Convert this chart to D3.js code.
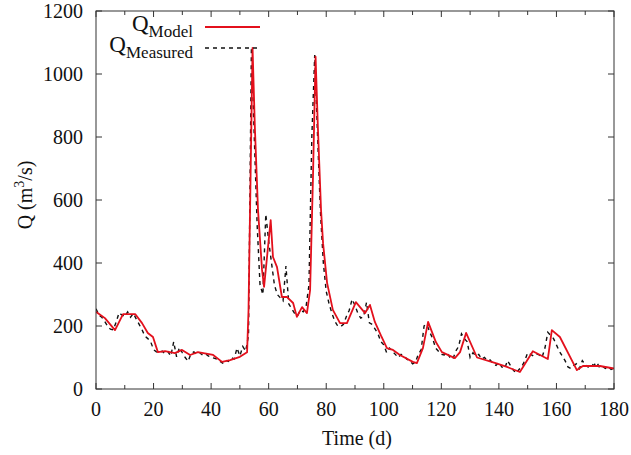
<!DOCTYPE html>
<html><head><meta charset="utf-8">
<script src="https://cdn.jsdelivr.net/npm/d3@7"></script>
<style>body{margin:0;background:#fff}svg{display:block}text{font-family:"Liberation Serif","DejaVu Serif",serif;fill:#111}</style>
</head><body><svg id="c" width="631" height="455"></svg>
<script>
const xTicks=[0,20,40,60,80,100,120,140,160,180];
const xMinor=[10,30,50,70,90,110,130,150,170];
const yTicks=[0,200,400,600,800,1000,1200];
const seriesNames=["Model","Measured"];
const modelDays=[0,3.1,6.6,9.4,13.6,16,18,19.8,21.5,24,27.4,29.9,32.7,35.4,40.7,43.8,46.6,50,52.5,53,54.4,55.2,56.3,57.7,58.4,60.7,61.5,62.9,64.6,66.4,68.5,69.8,71.6,73.3,74.4,75.4,76.3,77.1,78.2,78.9,80.3,82.3,84.8,87.2,90.3,93.5,95.2,96.9,99,101.1,103.2,105.6,110.1,111.5,113.6,115.4,118.1,120.2,124.7,126.5,128.6,132.4,138.6,142.8,147.3,151.8,157,158.4,161.2,167.1,169.2,175.1,180];
const modelQ=[245,225,187,238,238,209,178,165,117,120,114,124,108,117,108,86,92,102,117,250,1083,832,568,378,324,536,419,387,292,292,273,229,260,241,314,673,1055,832,568,463,337,251,209,209,276,241,267,213,170,130,124,108,86,82,130,213,149,117,98,117,178,100,83,70,54,120,95,187,165,60,73,73,65];
const measuredQ=[255,235,228,215,200,190,188,212,242,235,230,245,228,240,222,205,188,168,160,150,
125,118,115,120,112,118,105,150,102,132,115,100,88,112,118,110,115,108,112,105,
100,98,95,88,82,92,88,100,95,130,105,135,120,170,1085,800,520,330,300,555,
470,400,330,300,290,280,390,270,255,240,232,250,245,262,330,800,1060,800,560,400,
310,270,240,215,200,198,205,230,250,285,265,240,225,230,275,210,205,190,175,150,
140,115,130,120,110,100,110,105,95,90,80,85,110,125,200,205,180,160,130,120,
110,108,115,100,95,120,135,175,160,150,100,115,105,110,95,100,90,92,80,75,
85,70,65,90,75,60,50,62,72,90,115,110,105,112,108,100,130,180,170,160,
140,120,105,90,70,65,75,80,65,90,78,70,80,75,85,68,72,65,70,62,66];
const measuredDays=measuredQ.map((_,i)=>i);

const svg=d3.select("#c");
const L=96,R=614,T=11,B=389;
const x=d3.scaleLinear().domain([0,180]).range([L,R]);
const y=d3.scaleLinear().domain([0,1200]).range([B,T]);

svg.append("defs").append("clipPath").attr("id","clip").append("rect").attr("x",L).attr("y",T).attr("width",R-L).attr("height",B-T);

const ax=svg.append("g").attr("stroke","#333").attr("stroke-width",1);
xTicks.forEach(t=>{ax.append("line").attr("x1",x(t)).attr("x2",x(t)).attr("y1",B).attr("y2",B-6);
 ax.append("line").attr("x1",x(t)).attr("x2",x(t)).attr("y1",T).attr("y2",T+6);});
xMinor.forEach(t=>{ax.append("line").attr("x1",x(t)).attr("x2",x(t)).attr("y1",B).attr("y2",B-4);
 ax.append("line").attr("x1",x(t)).attr("x2",x(t)).attr("y1",T).attr("y2",T+4);});
yTicks.forEach(t=>{ax.append("line").attr("x1",L).attr("x2",L+6).attr("y1",y(t)).attr("y2",y(t));
 ax.append("line").attr("x1",R).attr("x2",R-6).attr("y1",y(t)).attr("y2",y(t));});

const lineM=d3.line().x((d,i)=>x(modelDays[i])).y(d=>y(d));
const lineS=d3.line().x((d,i)=>x(measuredDays[i])).y(d=>y(d));
const plot=svg.append("g").attr("clip-path","url(#clip)");
plot.append("path").datum(measuredQ).attr("d",lineS).attr("fill","none").attr("stroke","#111").attr("stroke-width",1.4).attr("stroke-dasharray","4,4");
plot.append("path").datum(modelQ).attr("d",lineM).attr("fill","none").attr("stroke","#e3101c").attr("stroke-width",1.8).attr("stroke-linejoin","round");

svg.append("rect").attr("x",L).attr("y",T).attr("width",R-L).attr("height",B-T).attr("fill","none").attr("stroke","#333").attr("stroke-width",1);

xTicks.forEach(t=>svg.append("text").attr("x",x(t)).attr("y",416).attr("text-anchor","middle").attr("font-size",20).text(t));
yTicks.forEach(t=>svg.append("text").attr("x",83).attr("y",y(t)+7).attr("text-anchor","end").attr("font-size",20).text(t));

svg.append("text").attr("x",357).attr("y",445).attr("text-anchor","middle").attr("font-size",20).text("Time (d)");
const yl=svg.append("text").attr("transform","translate(32,195) rotate(-90)").attr("text-anchor","middle").attr("font-size",20);
yl.append("tspan").text("Q (m");
yl.append("tspan").attr("font-size",14).attr("dy",-8).text("3");
yl.append("tspan").attr("dy",8).text("/s)");

function legendEntry(name,yBase,lineY,dash,color,w){
 const t=svg.append("text").attr("x",193).attr("y",yBase).attr("text-anchor","end").attr("font-size",23);
 t.append("tspan").text("Q");
 t.append("tspan").attr("font-size",17).attr("dy",6).text(name);
 const ln=svg.append("line").attr("x1",205).attr("x2",260).attr("y1",lineY).attr("y2",lineY).attr("stroke",color).attr("stroke-width",w);
 if(dash) ln.attr("stroke-dasharray",dash);
}
legendEntry(seriesNames[0],31,27,null,"#e3101c",1.8);
legendEntry(seriesNames[1],52,48,"4,4","#111",1.4);
</script></body></html>
